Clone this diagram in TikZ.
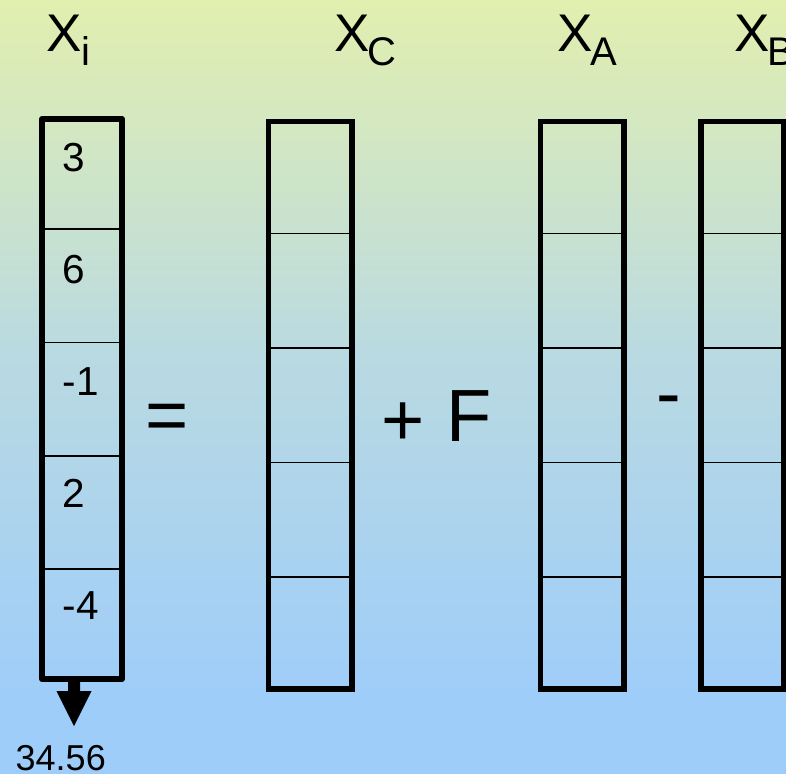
\documentclass[tikz,border=0pt]{standalone}
\usepackage{fontspec}
\setmainfont{Liberation Sans}
\usetikzlibrary{calc}
\definecolor{bgtop}{RGB}{226,239,175}
\definecolor{bgmid}{RGB}{186,218,225}
\definecolor{bgbot}{RGB}{158,205,250}
\pgfdeclareverticalshading{bgshade}{100bp}{color(0bp)=(bgbot); color(29.72bp)=(bgbot); color(52.36bp)=(bgmid); color(75bp)=(bgtop); color(100bp)=(bgtop)}
\begin{document}
\begin{tikzpicture}[x=1pt,y=-1pt,
  vecbox/.style={draw, line width=5.2pt, inner sep=0pt, line join=miter},
  divline/.style={line width=1.8pt},
  txt/.style={inner sep=0pt, anchor=base},
  lbl/.style={txt, font=\fontsize{53}{60}\selectfont},
  sub/.style={txt, font=\fontsize{40}{46}\selectfont},
  num/.style={inner sep=0pt, anchor=base west, font=\fontsize{40.5}{46}\selectfont},
  op/.style={txt, font=\fontsize{74}{80}\selectfont}]
\useasboundingbox (0,0) rectangle (786,773);
\shade[shading=bgshade] (0,0) rectangle (786,773);

% vectors
\node[vecbox, line width=6pt, line join=round, minimum width=80pt, minimum height=560pt] (xi) at (82,399) {};
\node[vecbox, minimum width=83.5pt, minimum height=567.5pt] (xc) at (310.25,405.25) {};
\node[vecbox, minimum width=83.5pt, minimum height=567.5pt] (xa) at (582.25,405.25) {};
\node[vecbox, minimum width=82.5pt, minimum height=567.5pt] (xb) at (742.25,405.25) {};
\foreach \b in {xi,xc,xa,xb}{
  \foreach \f in {0.2,0.4,0.6,0.8}{
    \draw[divline] ($(\b.north west)!\f!(\b.south west)$) -- ($(\b.north east)!\f!(\b.south east)$);
  }
}

% labels
\node[lbl] (lxi) at (64,52) {X};
\node[sub] (si) at (86,66) {i};
\node[lbl] (lxc) at (352.5,52) {X};
\node[sub] (sc) at (381.5,66) {C};
\node[lbl] (lxa) at (575,52) {X};
\node[sub] (sa) at (603.5,66) {A};
\node[lbl] (lxb) at (752.5,52) {X};
\node[sub] (sb) at (781,66) {B};

% values
\node[num] (v1) at (62.5,171) {3};
\node[num] (v2) at (62.5,283) {6};
\node[num] (v3) at (62.5,395) {-1};
\node[num] (v4) at (62.5,507) {2};
\node[num] (v5) at (62.5,619) {-4};

% operators
\node[op] (eq) at (167,440) {=};
\node[op] (plus) at (403,445) {+};
\node[op, anchor=base west] (ff) at (446,441) {F};
\node[op] (minus) at (668.5,418) {-};

% output arrow
\coordinate (atop) at (74,679);
\coordinate (atip) at (74,726);
\fill ($(atop)+(-6,0)$) -- ($(atop)+(6,0)$) -- ($(atop)+(6,12)$) -- ($(atop)+(17.5,12)$) -- (atip) -- ($(atop)+(-17.5,12)$) -- ($(atop)+(-6,12)$) -- cycle;
\node[inner sep=0pt, anchor=base west, font=\fontsize{36}{42}\selectfont] (val) at (15.5,770) {34.56};
\end{tikzpicture}
\end{document}
